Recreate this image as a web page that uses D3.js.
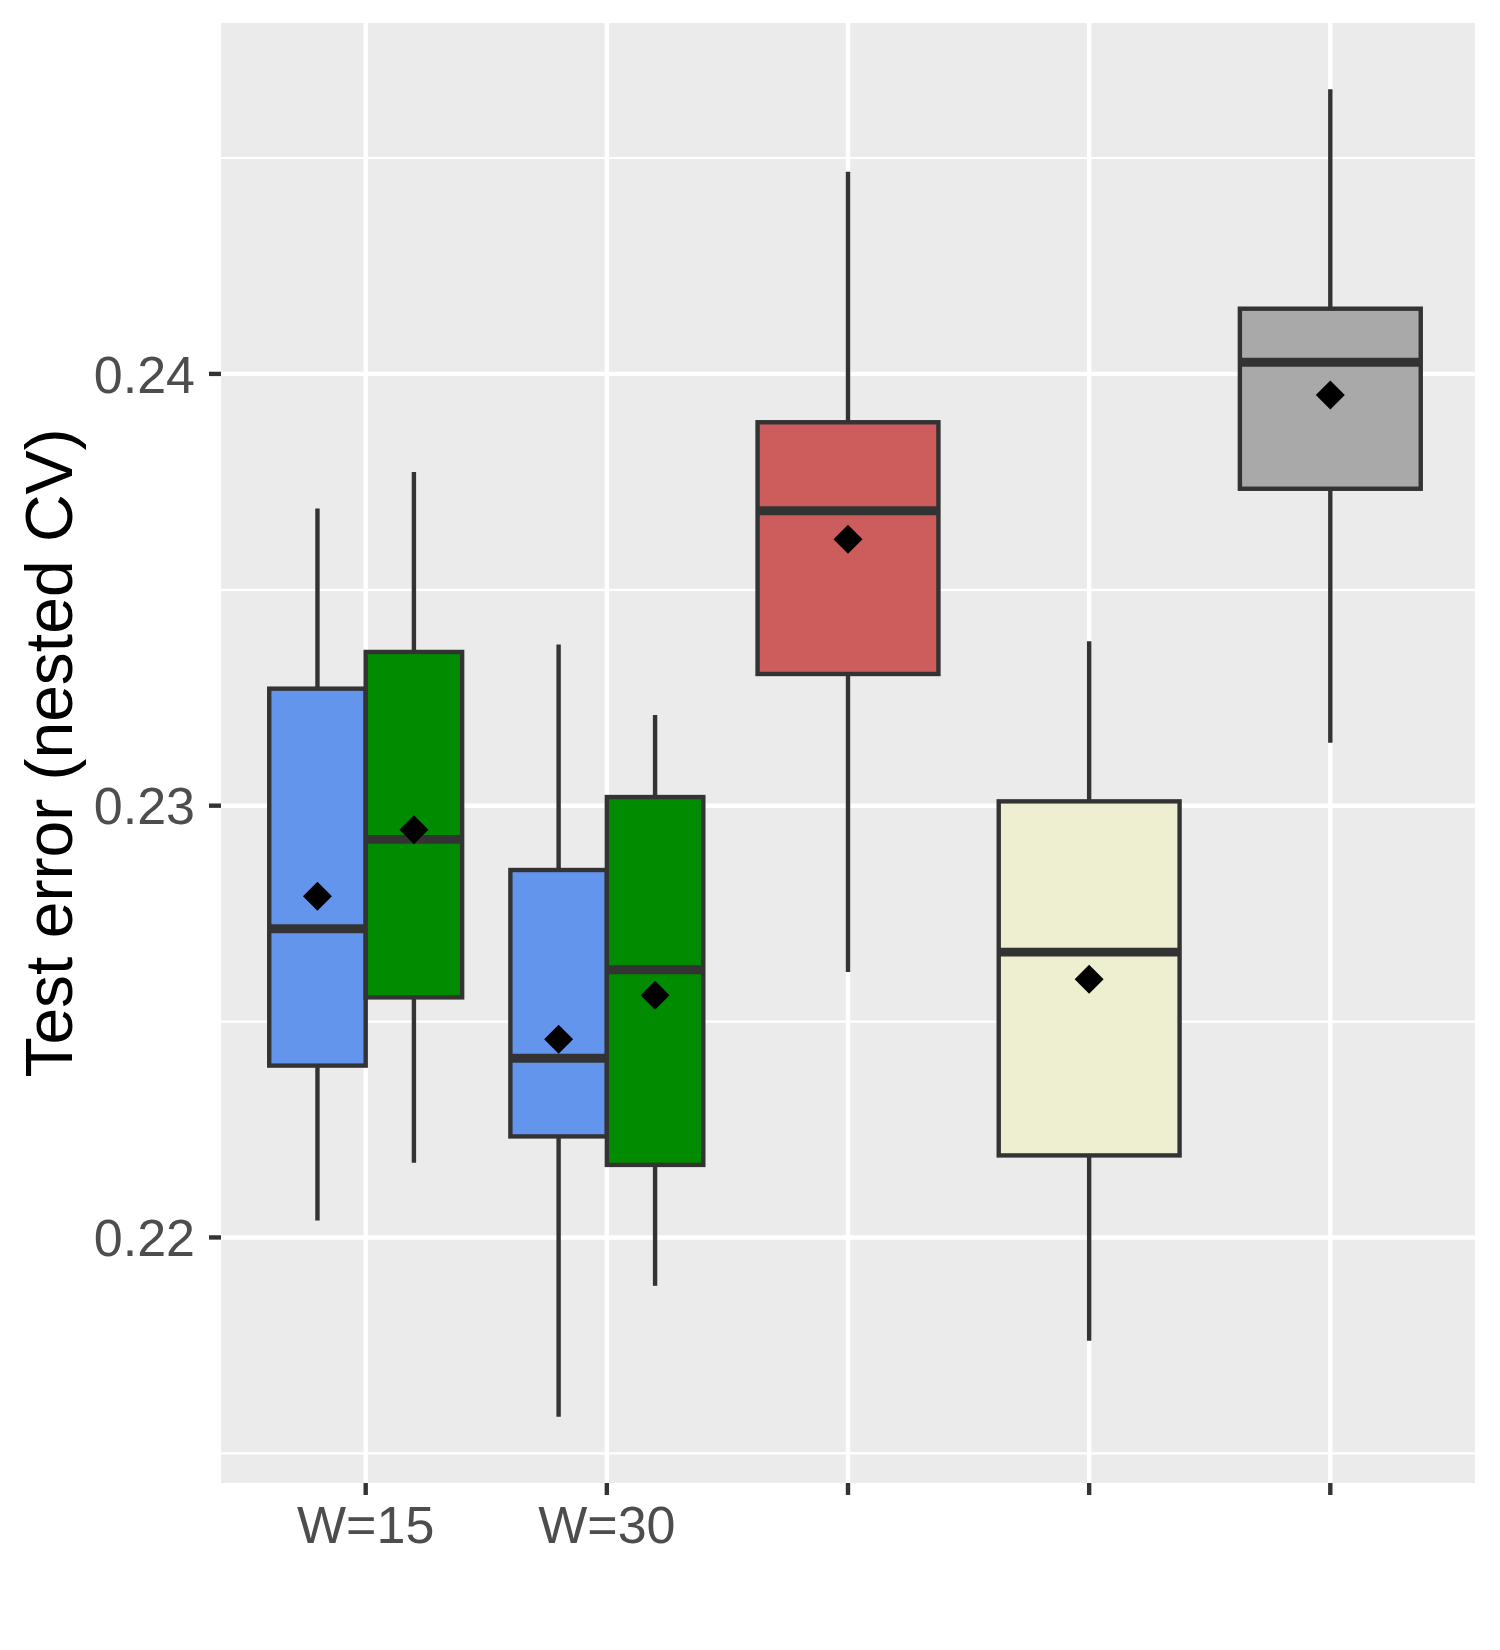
<!DOCTYPE html>
<html>
<head>
<meta charset="utf-8">
<script src="https://cdn.jsdelivr.net/npm/d3@7"></script>
<style>
  body { margin: 0; background: #fff; }
  svg { display: block; font-family: "Liberation Sans", Arial, Helvetica, sans-serif; }
</style>
</head>
<body>
<div id="chart"></div>
<script>
// categories on the x axis (only the first two carry a label)
const categories = ["W=15", "W=30", "c3", "c4", "c5"];
const tickLabels = ["W=15", "W=30", "", "", ""];

// one entry per box
const boxCategory = ["W=15", "W=15", "W=30", "W=30", "c3", "c4", "c5"];
const boxFill = ["#6495ED", "#008B00", "#6495ED", "#008B00", "#CD5C5C", "#EEEED1", "#A9A9A9"];
const boxLower = [0.22039, 0.22173, 0.21585, 0.21888, 0.22615, 0.21761, 0.23146];
const boxQ1 = [0.22398, 0.22556, 0.22234, 0.22168, 0.23305, 0.22190, 0.23734];
const boxMedian = [0.22715, 0.22922, 0.22415, 0.22620, 0.23683, 0.22661, 0.24027];
const boxQ3 = [0.23271, 0.23356, 0.22851, 0.23020, 0.23888, 0.23010, 0.24151];
const boxUpper = [0.23688, 0.23773, 0.23373, 0.23210, 0.24468, 0.23381, 0.24659];
const boxMean = [0.22790, 0.22944, 0.22459, 0.22561, 0.23617, 0.22598, 0.23951];

const yMajorTicks = [0.22, 0.23, 0.24];
const yMinorTicks = [0.215, 0.225, 0.235, 0.245];
const yTitle = "Test error (nested CV)";

const width = 1500, height = 1650;
const margin = { top: 23, right: 25, bottom: 167, left: 221 };
const innerW = width - margin.left - margin.right;
const innerH = height - margin.top - margin.bottom;

const lineCol = "#333333";

const svg = d3.select("#chart").append("svg")
    .attr("width", width)
    .attr("height", height);

const g = svg.append("g")
    .attr("transform", `translate(${margin.left},${margin.top})`);

// x: discrete positions, 0.6 step padding each side like ggplot
const x = d3.scalePoint()
    .domain(categories)
    .range([0, innerW])
    .padding(0.6);
const step = x.step();

// y: data range expanded by 5%
const yMin = d3.min(boxLower), yMax = d3.max(boxUpper);
const pad = (yMax - yMin) * 0.05;
const y = d3.scaleLinear()
    .domain([yMin - pad, yMax + pad])
    .range([innerH, 0]);

// panel background
g.append("rect")
    .attr("width", innerW)
    .attr("height", innerH)
    .attr("fill", "#EBEBEB");

// grid
g.append("g").selectAll("line")
    .data(yMinorTicks)
    .join("line")
    .attr("x1", 0).attr("x2", innerW)
    .attr("y1", d => y(d)).attr("y2", d => y(d))
    .attr("stroke", "#fff")
    .attr("stroke-width", 2.2);

g.append("g").selectAll("line")
    .data(yMajorTicks)
    .join("line")
    .attr("x1", 0).attr("x2", innerW)
    .attr("y1", d => y(d)).attr("y2", d => y(d))
    .attr("stroke", "#fff")
    .attr("stroke-width", 4.4);

g.append("g").selectAll("line")
    .data(categories)
    .join("line")
    .attr("x1", d => x(d)).attr("x2", d => x(d))
    .attr("y1", 0).attr("y2", innerH)
    .attr("stroke", "#fff")
    .attr("stroke-width", 4.4);

// build box records with dodging
const boxes = boxCategory.map((c, i) => ({
    cat: c, fill: boxFill[i],
    lower: boxLower[i], q1: boxQ1[i], median: boxMedian[i],
    q3: boxQ3[i], upper: boxUpper[i], mean: boxMean[i]
}));
const counts = d3.rollup(boxes, v => v.length, d => d.cat);
const seen = new Map();
boxes.forEach(b => {
    const n = counts.get(b.cat);
    const k = seen.get(b.cat) || 0;
    seen.set(b.cat, k + 1);
    const w = n === 1 ? 0.75 : 0.8 / n;
    const left = n === 1 ? -w / 2 : -0.4 + k * w;
    b.x0 = x(b.cat) + left * step;
    b.x1 = b.x0 + w * step;
    b.xc = (b.x0 + b.x1) / 2;
});

const boxG = g.append("g")
    .selectAll("g")
    .data(boxes)
    .join("g");

// whiskers
boxG.append("line")
    .attr("x1", d => d.xc).attr("x2", d => d.xc)
    .attr("y1", d => y(d.q3)).attr("y2", d => y(d.upper))
    .attr("stroke", lineCol).attr("stroke-width", 4.4);
boxG.append("line")
    .attr("x1", d => d.xc).attr("x2", d => d.xc)
    .attr("y1", d => y(d.q1)).attr("y2", d => y(d.lower))
    .attr("stroke", lineCol).attr("stroke-width", 4.4);

// box
boxG.append("rect")
    .attr("x", d => d.x0)
    .attr("width", d => d.x1 - d.x0)
    .attr("y", d => y(d.q3))
    .attr("height", d => y(d.q1) - y(d.q3))
    .attr("fill", d => d.fill)
    .attr("stroke", lineCol)
    .attr("stroke-width", 4.4);

// median
boxG.append("line")
    .attr("x1", d => d.x0).attr("x2", d => d.x1)
    .attr("y1", d => y(d.median)).attr("y2", d => y(d.median))
    .attr("stroke", lineCol)
    .attr("stroke-width", 8.8);

// mean diamond
boxG.append("path")
    .attr("d", d3.symbol().type(d3.symbolSquare).size(420)())
    .attr("transform", d => `translate(${d.xc},${y(d.mean)}) rotate(45)`)
    .attr("fill", "#000");

// y axis ticks and labels
const yAx = g.append("g");
yAx.selectAll("line")
    .data(yMajorTicks)
    .join("line")
    .attr("x1", -12).attr("x2", 0)
    .attr("y1", d => y(d)).attr("y2", d => y(d))
    .attr("stroke", lineCol).attr("stroke-width", 4.4);
yAx.selectAll("text")
    .data(yMajorTicks)
    .join("text")
    .attr("x", -26)
    .attr("y", d => y(d))
    .attr("dy", "0.36em")
    .attr("text-anchor", "end")
    .attr("font-size", 52)
    .attr("fill", "#4D4D4D")
    .text(d => d3.format(".2f")(d));

// x axis ticks and labels
const xAx = g.append("g").attr("transform", `translate(0,${innerH})`);
xAx.selectAll("line")
    .data(categories)
    .join("line")
    .attr("x1", d => x(d)).attr("x2", d => x(d))
    .attr("y1", 0).attr("y2", 12)
    .attr("stroke", lineCol).attr("stroke-width", 4.4);
xAx.selectAll("text")
    .data(categories)
    .join("text")
    .attr("x", d => x(d))
    .attr("y", 60)
    .attr("text-anchor", "middle")
    .attr("font-size", 52)
    .attr("fill", "#4D4D4D")
    .text((d, i) => tickLabels[i]);

// y title
svg.append("text")
    .attr("transform", `translate(72,${margin.top + innerH / 2}) rotate(-90)`)
    .attr("text-anchor", "middle")
    .attr("font-size", 66)
    .attr("fill", "#000")
    .text(yTitle);
</script>
</body>
</html>
